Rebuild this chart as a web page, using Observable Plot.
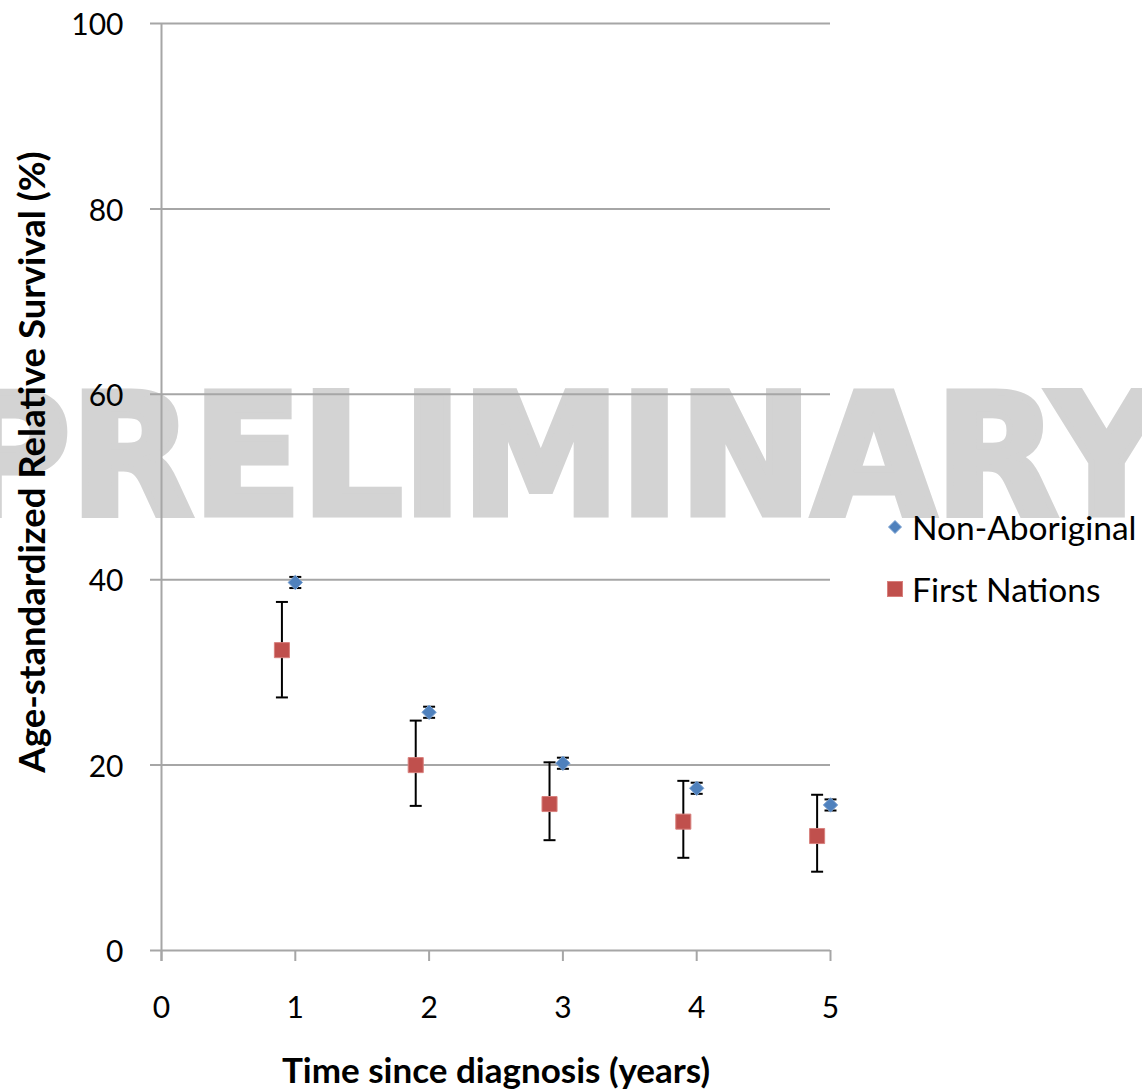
<!DOCTYPE html>
<html><head><meta charset="utf-8">
<script src="https://cdn.jsdelivr.net/npm/d3@7"></script>
<script src="https://cdn.jsdelivr.net/npm/@observablehq/plot@0.6"></script>
<style>
body{margin:0;background:#fff;}
#wrap{position:relative;width:1142px;height:1091px;overflow:hidden;}
.legend{position:absolute;left:884px;font-family:Lato,sans-serif;font-size:33.5px;color:#000;display:flex;align-items:center;gap:6px;white-space:nowrap;line-height:40px;}
</style></head><body><div id="wrap"></div>
<script>
const years = [1, 2, 3, 4, 5];
const nonAbValue = [39.7, 25.7, 20.2, 17.5, 15.7];
const nonAbLower = [39.1, 25.1, 19.6, 16.9, 15.1];
const nonAbUpper = [40.3, 26.3, 20.8, 18.1, 16.3];
const fnYears = [0.9, 1.9, 2.9, 3.9, 4.9];
const fnValue = [32.4, 20.0, 15.8, 13.9, 12.35];
const fnLower = [27.3, 15.6, 11.9, 10.0, 8.5];
const fnUpper = [37.6, 24.8, 20.3, 18.3, 16.8];
const xTicks = [0, 1, 2, 3, 4, 5];
const yTicks = [0, 20, 40, 60, 80, 100];
const seriesNames = ["Non-Aboriginal", "First Nations"];
const seriesColors = ["#4f81bd", "#c0504d"];
const xTitle = "Time since diagnosis (years)";
const yTitle = "Age-standardized Relative Survival (%)";
const watermark = "PRELIMINARY";

const nonAb = years.map((x, i) => ({x, y: nonAbValue[i], lo: nonAbLower[i], hi: nonAbUpper[i]}));
const fn = fnYears.map((x, i) => ({x, y: fnValue[i], lo: fnLower[i], hi: fnUpper[i]}));
const allErr = nonAb.concat(fn);

const capSymbol = {draw(ctx) { ctx.moveTo(-6, 0); ctx.lineTo(6, 0); }};
const grid = "#a6a6a6";

const chart = Plot.plot({
  width: 1142, height: 1091,
  marginLeft: 161, marginRight: 312, marginTop: 23, marginBottom: 141,
  style: {fontFamily: "Lato, sans-serif", fontSize: "30px", color: "#000", background: "transparent"},
  x: {domain: [0, 5]},
  y: {domain: [0, 100]},
  marks: [
    Plot.ruleY(yTicks, {stroke: grid, strokeWidth: 2, insetLeft: -11}),
    Plot.ruleX([0], {stroke: grid, strokeWidth: 2, insetBottom: -11}),
    Plot.axisX({ticks: xTicks, tickSize: 11, tickPadding: 35, stroke: grid, strokeWidth: 2, fill: "#000", label: null, tickFormat: d => String(d)}),
    Plot.axisY({ticks: yTicks, tickSize: 0, tickPadding: 38, dy: 2, fill: "#000", label: null, tickFormat: d => String(d)}),
    Plot.text([yTitle], {frameAnchor: "left", rotate: -90, dx: -128, dy: -25, fontWeight: "bold", fontSize: 36.5, textAnchor: "middle", lineAnchor: "middle", fill: "#000"}),
    Plot.text([xTitle], {frameAnchor: "bottom", dy: 121, fontWeight: "bold", fontSize: 35, textAnchor: "middle", lineAnchor: "middle", fill: "#000"}),
    Plot.ruleX(allErr, {x: "x", y1: "lo", y2: "hi", stroke: "#000", strokeWidth: 2}),
    Plot.dot(allErr, {x: "x", y: "lo", symbol: capSymbol, r: 6, stroke: "#000", strokeWidth: 2, fill: "none"}),
    Plot.dot(allErr, {x: "x", y: "hi", symbol: capSymbol, r: 6, stroke: "#000", strokeWidth: 2, fill: "none"}),
    Plot.dot(nonAb, {x: "x", y: "y", symbol: "diamond2", r: 6.5, fill: seriesColors[0], stroke: "#7ea4d3", strokeWidth: 1}),
    Plot.dot(fn, {x: "x", y: "y", symbol: "square", r: 8.5, fill: seriesColors[1], stroke: "#d8807d", strokeWidth: 1})
  ]
});

// watermark behind everything
const ns = "http://www.w3.org/2000/svg";
const wm = document.createElementNS(ns, "text");
wm.setAttribute("x", -46);
wm.setAttribute("y", 513.5);
wm.setAttribute("text-anchor", "start");
wm.setAttribute("font-family", "DejaVu Sans");
wm.setAttribute("font-weight", "bold");
wm.setAttribute("font-size", 168);
wm.setAttribute("fill", "#d3d3d3");
wm.setAttribute("stroke", "#d3d3d3");
wm.setAttribute("stroke-width", 7);
wm.setAttribute("stroke-linejoin", "miter");
wm.setAttribute("textLength", 1210);
wm.setAttribute("lengthAdjust", "spacingAndGlyphs");
wm.textContent = watermark;
const firstG = Array.from(chart.children).find(c => c.tagName.toLowerCase() !== "style");
chart.insertBefore(wm, firstG);

const wrap = document.getElementById("wrap");
wrap.appendChild(chart);

// legend
const legendTops = [507, 569];
const markerSvgs = [
  `<svg width="22" height="22" viewBox="-11 -11 22 22"><path d="M0,-6.5L6.5,0L0,6.5L-6.5,0Z" fill="${seriesColors[0]}" stroke="#7ea4d3"/></svg>`,
  `<svg width="22" height="22" viewBox="-11 -11 22 22"><rect x="-7.5" y="-7.5" width="15" height="15" fill="${seriesColors[1]}" stroke="#d8807d"/></svg>`
];
seriesNames.forEach((name, i) => {
  const d = document.createElement("div");
  d.className = "legend";
  d.style.top = legendTops[i] + "px";
  d.innerHTML = markerSvgs[i] + `<span>${name}</span>`;
  wrap.appendChild(d);
});
</script></body></html>
